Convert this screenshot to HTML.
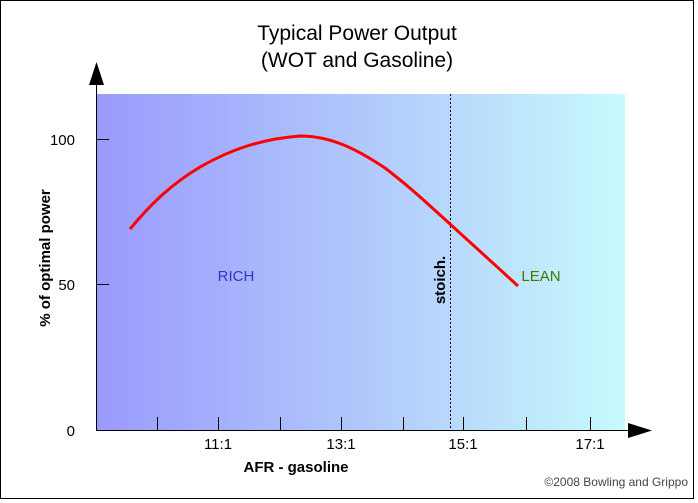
<!DOCTYPE html>
<html><head><style>body{margin:0;background:#fff}svg{display:block}</style></head>
<body>
<svg width="698" height="503" xmlns="http://www.w3.org/2000/svg" font-family="Liberation Sans, sans-serif">
<defs><linearGradient id="g" x1="0" x2="1" y1="0" y2="0">
<stop offset="0" stop-color="#9a9afd"/><stop offset="0.5" stop-color="#b0c8fb"/><stop offset="1" stop-color="#c8fafd"/></linearGradient></defs>
<rect x="0.5" y="0.5" width="693" height="498" fill="#fff" stroke="#000"/>
<rect x="96" y="94" width="529" height="336" fill="url(#g)"/>
<text x="357" y="40" font-size="21" text-anchor="middle">Typical Power Output</text>
<text x="357" y="67" font-size="21" text-anchor="middle">(WOT and Gasoline)</text>
<line x1="96.5" y1="80" x2="96.5" y2="430" stroke="#000"/>
<polygon points="96.5,62 89,85 104,85" fill="#000"/>
<line x1="96" y1="430.5" x2="632" y2="430.5" stroke="#000"/>
<polygon points="652,430.5 628,423 628,438" fill="#000"/>
<g stroke="#000">
<line x1="96" y1="139.5" x2="109" y2="139.5"/><line x1="96" y1="284.5" x2="109" y2="284.5"/>
<line x1="157.5" y1="417" x2="157.5" y2="430"/><line x1="218.5" y1="417" x2="218.5" y2="430"/>
<line x1="280.5" y1="417" x2="280.5" y2="430"/><line x1="341.5" y1="417" x2="341.5" y2="430"/>
<line x1="403.5" y1="417" x2="403.5" y2="430"/><line x1="463.5" y1="417" x2="463.5" y2="430"/>
<line x1="526.5" y1="417" x2="526.5" y2="430"/><line x1="590.5" y1="417" x2="590.5" y2="430"/>
</g>
<g font-size="15" text-anchor="end"><text x="75" y="145">100</text><text x="75" y="290">50</text><text x="75" y="436">0</text></g>
<g font-size="15" text-anchor="middle"><text x="218" y="449">11:1</text><text x="341" y="449">13:1</text><text x="463" y="449">15:1</text><text x="590" y="449">17:1</text></g>
<text x="296" y="472" font-size="15" font-weight="bold" text-anchor="middle">AFR - gasoline</text>
<text transform="translate(50,258) rotate(-90)" font-size="15" font-weight="bold" text-anchor="middle">% of optimal power</text>
<line x1="450.5" y1="94" x2="450.5" y2="430" stroke="#000" stroke-dasharray="2,2"/>
<text transform="translate(445,280) rotate(-90)" font-size="15" font-weight="bold" text-anchor="middle">stoich.</text>
<text x="236" y="281" font-size="15" fill="#3333cc" text-anchor="middle">RICH</text>
<text x="541" y="281" font-size="15" fill="#447700" text-anchor="middle">LEAN</text>
<path d="M130,229 C150,205 170,185 200,167 C230,150 260,139 300,136 C330,136 355,148 385,168 C410,187 430,206 450,224 C470,242 495,265 518,286" fill="none" stroke="#f00" stroke-width="3"/>
<text x="688" y="486" font-size="12" fill="#444" text-anchor="end">©2008 Bowling and Grippo</text>
</svg>
</body></html>
